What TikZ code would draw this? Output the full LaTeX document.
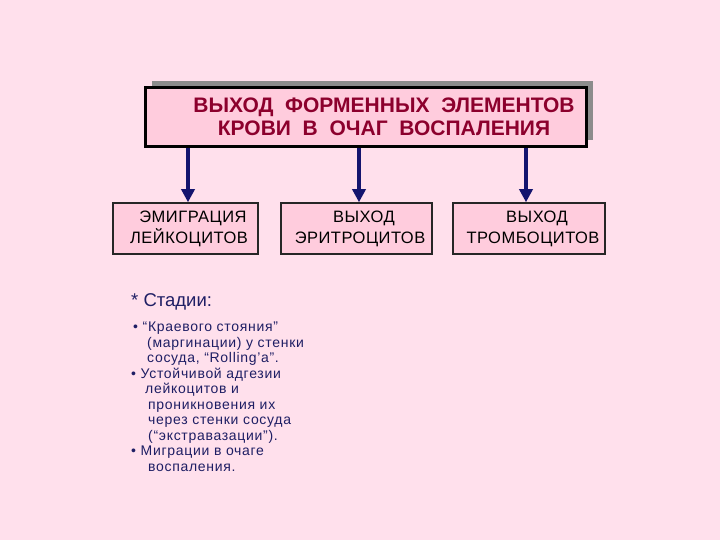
\documentclass[tikz,border=0pt]{standalone}
\usepackage{fontspec}
\setmainfont{Liberation Sans}
\newfontfamily\widefont[LetterSpace=3]{Liberation Sans}
\newfontfamily\stagefont[LetterSpace=5]{Liberation Sans}
\usetikzlibrary{arrows.meta,positioning,shadows}
\definecolor{bgpink}{RGB}{255,224,236}
\definecolor{boxpink}{RGB}{255,204,221}
\definecolor{titlered}{RGB}{140,0,45}
\definecolor{arrnavy}{RGB}{20,20,110}
\definecolor{stageblue}{RGB}{30,30,100}

\begin{document}
\begin{tikzpicture}[x=1pt,y=-1pt,
  frame/.style={draw=black!85,fill=boxpink,line width=1.5pt,minimum height=51pt,inner sep=0pt},
  boxtext/.style={align=center,font=\widefont\fontsize{16.5}{21}\selectfont},
  arr/.style={-{Triangle[length=13pt,width=13pt]},line width=3.5pt,draw=arrnavy}]
  \fill[bgpink] (0,0) rectangle (720,540);
  % main box with shadow
  \node[draw=black,fill=boxpink,line width=3pt,minimum width=441pt,minimum height=59pt,
        drop shadow={shadow xshift=6.5pt,shadow yshift=6.5pt,fill=gray!90,opacity=1}] (title) at (365.5,117.5) {};
  \node[font=\bfseries\fontsize{21}{23}\selectfont,text=titlered,align=center] (titletext) at (384,117)
    {ВЫХОД\ \ ФОРМЕННЫХ\ \ ЭЛЕМЕНТОВ\\КРОВИ\ \ В\ \ ОЧАГ\ \ ВОСПАЛЕНИЯ};
  % lower boxes
  \node[frame,minimum width=145pt] (emig) at (185.5,228.5) {};
  \node[frame,minimum width=151pt] (eryth) at (356.5,228.5) {};
  \node[frame,minimum width=152pt] (thromb) at (529,228.5) {};
  \node[boxtext] (emigtext) at (189,229) {\hspace*{8pt}ЭМИГРАЦИЯ\\ЛЕЙКОЦИТОВ};
  \node[boxtext] (erythtext) at (360,229) {\hspace*{8pt}ВЫХОД\\ЭРИТРОЦИТОВ};
  \node[boxtext] (thrombtext) at (533,229) {\hspace*{8pt}ВЫХОД\\ТРОМБОЦИТОВ};
  % arrows
  \draw[arr] (title.south -| 188,0) -- (emig.north -| 188,0);
  \draw[arr] (title.south -| 359,0) -- (eryth.north -| 359,0);
  \draw[arr] (title.south -| 526,0) -- (thromb.north -| 526,0);
  % stages
  \node[anchor=north west,inner sep=0pt,text=stageblue,align=left,
        font=\stagefont\fontsize{14}{15.5}\selectfont] (stages) at (131,293)
    {{\setmainfont{Liberation Sans}\fontsize{18.5}{20}\selectfont * Стадии:}\\[10pt]
     \hspace*{2pt}• “Краевого стояния”\\
     \hspace*{16pt}(маргинации) у стенки\\
     \hspace*{16pt}сосуда, “Rolling’a”.\\
     • Устойчивой адгезии\\
     \hspace*{14pt}лейкоцитов и\\
     \hspace*{17pt}проникновения их\\
     \hspace*{17pt}через стенки сосуда\\
     \hspace*{17pt}(“экстравазации”).\\
     • Миграции в очаге\\
     \hspace*{17pt}воспаления.};
\end{tikzpicture}
\end{document}
